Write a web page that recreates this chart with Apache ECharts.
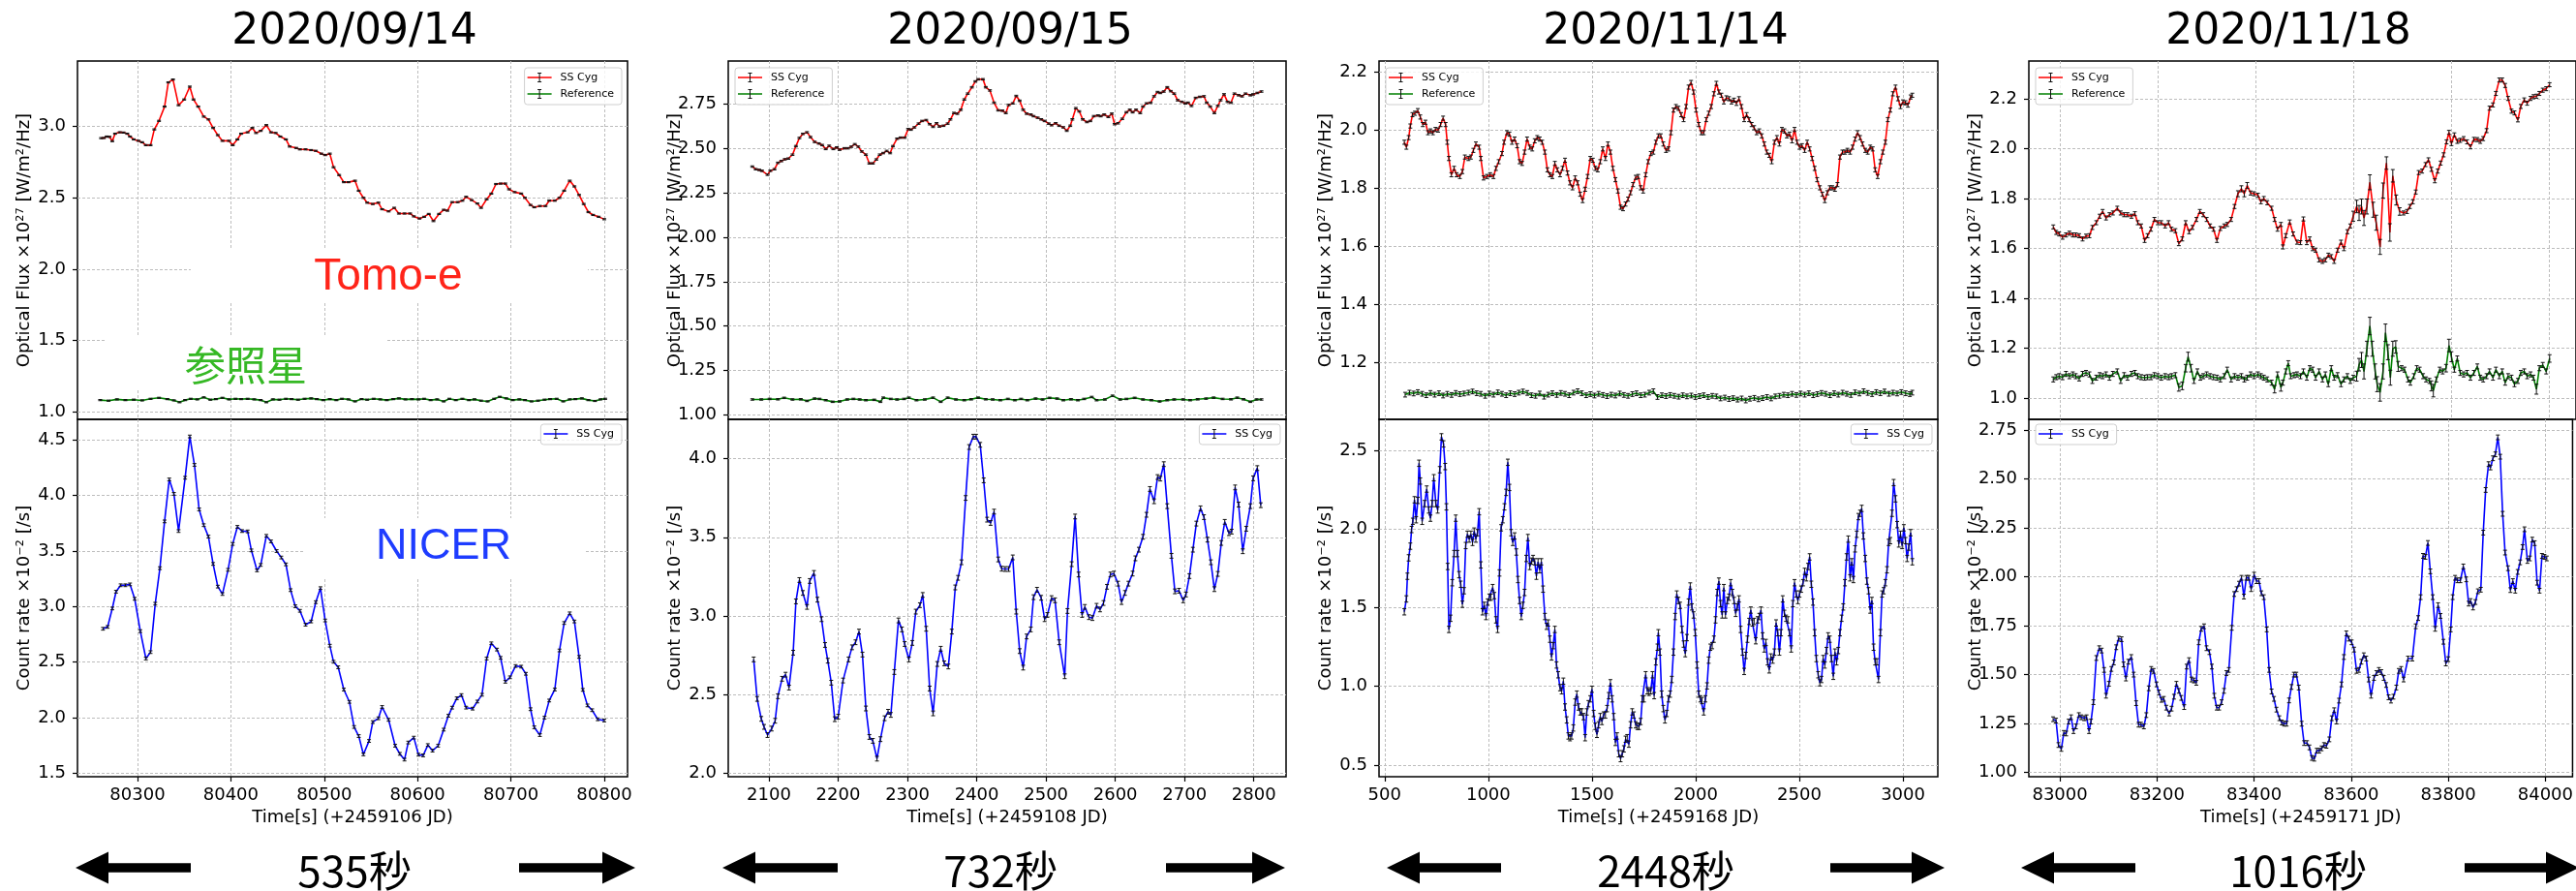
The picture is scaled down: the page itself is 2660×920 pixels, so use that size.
<!DOCTYPE html>
<html>
<head>
<meta charset="utf-8">
<title>SS Cyg Tomo-e / NICER light curves</title>
<script src="https://cdn.jsdelivr.net/npm/echarts@6/dist/echarts.min.js"></script>
<style>
  html, body { margin: 0; padding: 0; background: #fff; }
  #chart { width: 2660px; height: 920px; }
</style>
</head>
<body>
<div id="chart"></div>
<script>
// ---------------- data ----------------
const dates = ['2020/09/14', '2020/09/15', '2020/11/14', '2020/11/18'];
const spans = ['535秒', '732秒', '2448秒', '1016秒'];
const timeLabels = ['Time[s] (+2459106 JD)', 'Time[s] (+2459108 JD)', 'Time[s] (+2459168 JD)', 'Time[s] (+2459171 JD)'];

// axis limits
const xRange1 = [80235.7, 80824.9], xRange2 = [2041.3, 2846.5], xRange3 = [473, 3168], xRange4 = [82936, 84056];
const optRange1 = [0.946, 3.46], optRange2 = [0.974, 2.994], optRange3 = [1.004, 2.239], optRange4 = [0.915, 2.351];
const cntRange1 = [1.468, 4.686], cntRange2 = [1.977, 4.25], cntRange3 = [0.426, 2.697], cntRange4 = [0.977, 2.804];

// tick values
const xTicks1 = [80300, 80400, 80500, 80600, 80700, 80800];
const xTicks2 = [2100, 2200, 2300, 2400, 2500, 2600, 2700, 2800];
const xTicks3 = [500, 1000, 1500, 2000, 2500, 3000];
const xTicks4 = [83000, 83200, 83400, 83600, 83800, 84000];
const optTicks1 = [1.0, 1.5, 2.0, 2.5, 3.0];
const optTicks2 = [1.00, 1.25, 1.50, 1.75, 2.00, 2.25, 2.50, 2.75];
const optTicks3 = [1.2, 1.4, 1.6, 1.8, 2.0, 2.2];
const optTicks4 = [1.0, 1.2, 1.4, 1.6, 1.8, 2.0, 2.2];
const cntTicks1 = [1.5, 2.0, 2.5, 3.0, 3.5, 4.0, 4.5];
const cntTicks2 = [2.0, 2.5, 3.0, 3.5, 4.0];
const cntTicks3 = [0.5, 1.0, 1.5, 2.0, 2.5];
const cntTicks4 = [1.00, 1.25, 1.50, 1.75, 2.00, 2.25, 2.50, 2.75];

// typical 1-sigma errors per series (a third entry in a point overrides it)
const errTomo = [0.004, 0.004, 0.007, 0.008];
const errRef = [0.004, 0.004, 0.008, 0.01];
const errNicer = [0.012, 0.015, 0.02, 0.012];

// 2020/09/14  [time, value]
const tomo1 = [[80261,2.919],[80264,2.92],[80267,2.93],[80270,2.928],[80273,2.898],[80276,2.95],[80281,2.96],[80285,2.958],[80289,2.95],[80292,2.93],[80296,2.91],[80301,2.90],[80305,2.89],[80309,2.87],[80314,2.87],[80318,2.98],[80323,3.04],[80329,3.14],[80333,3.31],[80338,3.33],[80344,3.15],[80350,3.19],[80356,3.28],[80360,3.19],[80365,3.14],[80371,3.07],[80376,3.05],[80381,2.99],[80386,2.94],[80391,2.90],[80398,2.90],[80402,2.87],[80407,2.91],[80411,2.95],[80418,2.96],[80423,2.99],[80427,2.955],[80432,2.97],[80438,3.01],[80443,2.96],[80448,2.955],[80453,2.93],[80459,2.91],[80463,2.86],[80470,2.85],[80474,2.84],[80480,2.84],[80486,2.835],[80491,2.83],[80497,2.81],[80501,2.80],[80506,2.81],[80510,2.715],[80516,2.66],[80521,2.61],[80526,2.61],[80533,2.62],[80537,2.55],[80542,2.50],[80546,2.466],[80552,2.457],[80558,2.466],[80562,2.42],[80569,2.405],[80575,2.43],[80580,2.39],[80586,2.39],[80592,2.39],[80596,2.37],[80602,2.355],[80607,2.367],[80612,2.387],[80617,2.337],[80623,2.387],[80628,2.416],[80632,2.41],[80637,2.47],[80643,2.47],[80648,2.48],[80652,2.507],[80658,2.484],[80664,2.46],[80668,2.43],[80674,2.49],[80679,2.53],[80684,2.597],[80689,2.60],[80694,2.60],[80698,2.56],[80704,2.54],[80711,2.53],[80715,2.50],[80721,2.45],[80725,2.434],[80731,2.443],[80737,2.443],[80741,2.48],[80747,2.48],[80752,2.50],[80757,2.55],[80763,2.62],[80768,2.58],[80773,2.52],[80778,2.457],[80783,2.40],[80788,2.38],[80794,2.367],[80800,2.35]];
const ref1 = [[80260,1.081],[80269,1.077],[80278,1.086],[80287,1.081],[80296,1.084],[80305,1.079],[80314,1.090],[80323,1.097],[80332,1.088],[80339,1.079],[80345,1.066],[80351,1.081],[80357,1.090],[80364,1.086],[80371,1.100],[80378,1.084],[80384,1.088],[80391,1.097],[80398,1.086],[80405,1.090],[80411,1.088],[80418,1.090],[80425,1.086],[80432,1.081],[80438,1.066],[80445,1.086],[80452,1.084],[80459,1.090],[80465,1.088],[80472,1.084],[80479,1.090],[80486,1.093],[80492,1.088],[80499,1.081],[80506,1.088],[80513,1.081],[80519,1.090],[80526,1.086],[80533,1.072],[80540,1.088],[80546,1.084],[80553,1.090],[80560,1.086],[80567,1.081],[80574,1.088],[80580,1.093],[80587,1.086],[80594,1.088],[80601,1.086],[80607,1.090],[80614,1.081],[80621,1.086],[80628,1.072],[80634,1.090],[80641,1.081],[80648,1.090],[80655,1.081],[80661,1.086],[80668,1.077],[80675,1.072],[80682,1.090],[80688,1.104],[80695,1.093],[80702,1.081],[80709,1.086],[80715,1.081],[80722,1.072],[80729,1.077],[80736,1.084],[80742,1.088],[80749,1.090],[80756,1.072],[80763,1.086],[80769,1.088],[80776,1.093],[80783,1.081],[80790,1.075],[80796,1.086],[80801,1.090]];
const nicer1 = [[80263,2.80],[80268,2.817],[80273,2.983],[80277,3.134],[80282,3.192],[80287,3.192],[80292,3.20],[80297,3.07],[80303,2.779],[80309,2.532],[80314,2.59],[80319,3.026],[80324,3.346],[80329,3.767],[80334,4.145],[80339,4.015],[80344,3.68],[80351,4.16],[80356,4.532],[80361,4.276],[80366,3.875],[80371,3.733],[80376,3.63],[80381,3.384],[80386,3.18],[80391,3.113],[80397,3.331],[80402,3.564],[80407,3.718],[80412,3.68],[80418,3.677],[80422,3.506],[80428,3.326],[80432,3.375],[80438,3.637],[80443,3.587],[80449,3.50],[80454,3.442],[80459,3.38],[80464,3.148],[80469,3.003],[80474,2.962],[80480,2.837],[80486,2.866],[80491,3.04],[80496,3.166],[80501,2.875],[80506,2.648],[80510,2.503],[80515,2.453],[80521,2.253],[80527,2.142],[80532,1.916],[80537,1.834],[80542,1.669],[80548,1.79],[80552,1.96],[80558,1.994],[80562,2.096],[80569,1.98],[80576,1.747],[80581,1.674],[80586,1.622],[80590,1.776],[80596,1.82],[80601,1.666],[80606,1.66],[80611,1.753],[80616,1.703],[80622,1.747],[80628,1.892],[80633,2.017],[80637,2.09],[80642,2.174],[80647,2.203],[80652,2.09],[80659,2.081],[80664,2.145],[80669,2.206],[80674,2.532],[80679,2.669],[80685,2.613],[80689,2.538],[80694,2.323],[80699,2.363],[80705,2.465],[80711,2.459],[80716,2.395],[80721,2.076],[80725,1.913],[80731,1.843],[80736,2.0],[80741,2.154],[80747,2.253],[80752,2.605],[80757,2.852],[80763,2.939],[80768,2.866],[80773,2.547],[80777,2.25],[80782,2.11],[80787,2.067],[80793,1.985],[80800,1.974]];

// 2020/09/15
const tomo2 = [[2076,2.399],[2081,2.384],[2086,2.38],[2090,2.375],[2098,2.353],[2102,2.375],[2108,2.384],[2113,2.42],[2118,2.43],[2123,2.44],[2128,2.444],[2134,2.466],[2139,2.514],[2144,2.56],[2149,2.583],[2155,2.592],[2160,2.565],[2166,2.538],[2172,2.529],[2177,2.52],[2182,2.498],[2187,2.516],[2193,2.498],[2198,2.507],[2202,2.494],[2209,2.502],[2214,2.502],[2219,2.511],[2224,2.525],[2229,2.511],[2234,2.484],[2240,2.466],[2245,2.417],[2250,2.417],[2255,2.439],[2260,2.466],[2265,2.475],[2270,2.487],[2275,2.475],[2279,2.514],[2285,2.556],[2290,2.562],[2296,2.562],[2301,2.61],[2305,2.607],[2310,2.62],[2316,2.641],[2321,2.656],[2327,2.661],[2332,2.638],[2337,2.623],[2342,2.643],[2346,2.625],[2352,2.629],[2358,2.641],[2362,2.665],[2367,2.701],[2372,2.697],[2377,2.719],[2382,2.777],[2387,2.81],[2393,2.846],[2398,2.879],[2402,2.891],[2409,2.891],[2413,2.846],[2419,2.828],[2425,2.759],[2431,2.716],[2437,2.714],[2442,2.701],[2446,2.746],[2452,2.755],[2457,2.797],[2462,2.77],[2467,2.719],[2472,2.697],[2478,2.692],[2482,2.683],[2488,2.674],[2493,2.665],[2498,2.656],[2504,2.641],[2508,2.632],[2514,2.643],[2519,2.629],[2525,2.62],[2530,2.601],[2535,2.629],[2538,2.665],[2543,2.728],[2548,2.71],[2553,2.665],[2559,2.65],[2564,2.656],[2569,2.683],[2575,2.687],[2579,2.683],[2584,2.692],[2590,2.679],[2595,2.697],[2599,2.638],[2604,2.643],[2610,2.668],[2616,2.705],[2621,2.719],[2625,2.705],[2630,2.719],[2636,2.701],[2640,2.737],[2645,2.755],[2651,2.759],[2656,2.795],[2661,2.819],[2665,2.814],[2670,2.822],[2675,2.846],[2680,2.824],[2685,2.81],[2690,2.773],[2696,2.764],[2701,2.755],[2705,2.759],[2710,2.741],[2716,2.786],[2722,2.792],[2728,2.795],[2732,2.759],[2737,2.737],[2743,2.701],[2748,2.741],[2752,2.773],[2757,2.806],[2762,2.764],[2767,2.759],[2772,2.81],[2778,2.801],[2783,2.795],[2788,2.81],[2795,2.801],[2799,2.806],[2805,2.814],[2811,2.822]];
const ref2 = [[2076,1.086],[2089,1.086],[2101,1.089],[2113,1.087],[2122,1.095],[2134,1.086],[2146,1.087],[2155,1.078],[2166,1.091],[2173,1.089],[2182,1.082],[2192,1.073],[2202,1.075],[2213,1.086],[2222,1.089],[2231,1.086],[2240,1.082],[2252,1.084],[2261,1.073],[2265,1.096],[2276,1.089],[2285,1.086],[2295,1.089],[2302,1.096],[2313,1.082],[2325,1.086],[2337,1.096],[2348,1.073],[2358,1.096],[2370,1.086],[2382,1.082],[2392,1.087],[2402,1.096],[2413,1.087],[2423,1.086],[2434,1.082],[2445,1.089],[2455,1.082],[2464,1.089],[2473,1.082],[2485,1.091],[2495,1.086],[2505,1.095],[2516,1.091],[2525,1.082],[2536,1.087],[2546,1.082],[2555,1.089],[2566,1.100],[2573,1.082],[2585,1.086],[2596,1.107],[2607,1.086],[2616,1.089],[2628,1.095],[2640,1.086],[2652,1.082],[2664,1.075],[2675,1.082],[2685,1.086],[2698,1.086],[2708,1.082],[2719,1.087],[2731,1.091],[2742,1.096],[2755,1.089],[2767,1.087],[2776,1.096],[2785,1.087],[2795,1.073],[2804,1.086],[2811,1.086]];
const nicer2 = [[2078,2.723],[2083,2.472],[2089,2.345],[2093,2.294],[2098,2.242],[2104,2.283],[2109,2.333],[2113,2.489],[2119,2.6],[2124,2.626],[2129,2.544],[2135,2.766],[2139,3.092],[2144,3.228],[2149,3.146],[2155,3.057],[2159,3.222],[2165,3.273],[2170,3.103],[2176,2.979],[2181,2.815],[2185,2.715],[2190,2.575],[2195,2.343],[2200,2.359],[2207,2.589],[2215,2.723],[2220,2.8],[2225,2.832],[2230,2.9],[2235,2.754],[2240,2.411],[2245,2.23],[2250,2.205],[2256,2.092],[2261,2.216],[2267,2.349],[2272,2.39],[2276,2.37],[2281,2.643],[2287,2.971],[2292,2.914],[2296,2.821],[2302,2.723],[2307,2.828],[2312,3.027],[2318,3.068],[2322,3.133],[2327,2.918],[2332,2.538],[2337,2.38],[2343,2.694],[2348,2.791],[2353,2.698],[2359,2.678],[2364,2.9],[2369,3.181],[2373,3.242],[2378,3.341],[2384,3.75],[2389,4.074],[2395,4.14],[2399,4.14],[2405,4.088],[2410,3.862],[2415,3.612],[2420,3.591],[2425,3.663],[2431,3.359],[2436,3.3],[2441,3.298],[2446,3.298],[2452,3.372],[2457,3.027],[2462,2.776],[2467,2.671],[2472,2.869],[2478,2.914],[2482,3.119],[2487,3.166],[2493,3.115],[2498,2.979],[2502,3.006],[2508,3.113],[2513,3.099],[2519,2.832],[2527,2.616],[2531,3.031],[2537,3.329],[2542,3.632],[2547,3.263],[2552,3.006],[2556,3.057],[2562,2.992],[2567,2.986],[2573,3.064],[2578,3.041],[2583,3.082],[2588,3.185],[2593,3.263],[2598,3.269],[2604,3.205],[2609,3.088],[2614,3.146],[2619,3.205],[2625,3.269],[2629,3.366],[2634,3.421],[2640,3.503],[2645,3.643],[2650,3.807],[2656,3.729],[2661,3.883],[2665,3.873],[2670,3.965],[2675,3.698],[2681,3.382],[2686,3.156],[2692,3.16],[2698,3.099],[2702,3.136],[2707,3.253],[2712,3.421],[2717,3.587],[2723,3.684],[2728,3.628],[2733,3.485],[2738,3.341],[2743,3.17],[2748,3.267],[2753,3.464],[2758,3.598],[2764,3.526],[2768,3.536],[2773,3.817],[2778,3.708],[2784,3.411],[2789,3.554],[2795,3.698],[2799,3.875],[2805,3.94],[2810,3.704]];

// 2020/11/14
const tomo3 = [[595,1.959],[605,1.942],[616,1.975],[624,2.015],[634,2.054],[646,2.059],[660,2.068],[672,2.046],[684,2.02],[697,2.028],[709,1.992],[721,1.998],[733,1.992],[745,2.003],[758,2.001],[770,2.02],[782,2.042],[794,2.02],[802,1.959],[810,1.903],[822,1.847],[835,1.869],[847,1.847],[863,1.841],[875,1.858],[887,1.908],[904,1.903],[916,1.908],[928,1.931],[940,1.953],[956,1.942],[964,1.903],[977,1.836],[993,1.841],[1009,1.847],[1025,1.841],[1037,1.869],[1050,1.892],[1066,1.92],[1076,1.959],[1090,1.992],[1102,1.987],[1114,1.959],[1127,1.97],[1139,1.947],[1151,1.892],[1163,1.886],[1175,1.925],[1187,1.97],[1200,1.942],[1212,1.936],[1224,1.964],[1236,1.975],[1248,1.97],[1260,1.959],[1273,1.925],[1285,1.864],[1297,1.847],[1309,1.841],[1321,1.886],[1333,1.864],[1346,1.847],[1358,1.869],[1370,1.897],[1382,1.853],[1394,1.819],[1406,1.802],[1419,1.836],[1431,1.819],[1443,1.78],[1455,1.758],[1467,1.797],[1479,1.841],[1492,1.903],[1504,1.897],[1516,1.869],[1528,1.864],[1540,1.892],[1552,1.936],[1565,1.903],[1577,1.953],[1589,1.925],[1601,1.869],[1613,1.83],[1625,1.791],[1638,1.735],[1650,1.73],[1662,1.746],[1674,1.763],[1686,1.785],[1698,1.813],[1711,1.838],[1723,1.841],[1735,1.802],[1747,1.791],[1759,1.847],[1771,1.892],[1784,1.92],[1796,1.925],[1808,1.959],[1820,1.981],[1832,1.981],[1844,1.953],[1857,1.931],[1869,1.936],[1881,1.992],[1893,2.07],[1905,2.082],[1917,2.076],[1930,2.054],[1942,2.037],[1954,2.082],[1966,2.149],[1978,2.165],[1990,2.132],[2002,2.07],[2015,2.02],[2027,1.992],[2039,1.992],[2051,2.037],[2063,2.059],[2075,2.082],[2088,2.126],[2100,2.162],[2112,2.132],[2124,2.121],[2136,2.098],[2148,2.112],[2161,2.109],[2173,2.098],[2185,2.104],[2197,2.093],[2209,2.109],[2221,2.082],[2234,2.037],[2246,2.054],[2258,2.037],[2270,2.02],[2282,2.009],[2294,1.992],[2307,1.998],[2319,1.981],[2331,1.953],[2343,1.925],[2355,1.914],[2367,1.892],[2380,1.959],[2392,1.975],[2404,1.953],[2416,2.003],[2428,1.998],[2440,1.981],[2453,1.987],[2465,1.964],[2477,2.003],[2489,1.959],[2501,1.942],[2513,1.947],[2526,1.931],[2538,1.959],[2550,1.936],[2562,1.903],[2574,1.869],[2586,1.83],[2599,1.802],[2611,1.78],[2623,1.758],[2635,1.785],[2647,1.802],[2659,1.802],[2672,1.797],[2684,1.813],[2696,1.908],[2708,1.925],[2720,1.925],[2732,1.931],[2745,1.925],[2757,1.942],[2769,1.97],[2781,1.992],[2793,1.975],[2805,1.953],[2818,1.931],[2830,1.925],[2842,1.942],[2854,1.936],[2866,1.864],[2878,1.841],[2891,1.892],[2903,1.925],[2915,1.959],[2927,2.037],[2939,2.07],[2951,2.126],[2964,2.149],[2976,2.109],[2988,2.082],[3000,2.098],[3012,2.095],[3024,2.087],[3037,2.115],[3045,2.121]];
const ref3 = [[599,1.089],[620,1.096],[640,1.093],[660,1.098],[681,1.092],[701,1.087],[721,1.095],[741,1.089],[762,1.094],[782,1.086],[802,1.092],[823,1.088],[843,1.095],[863,1.091],[883,1.093],[904,1.096],[924,1.100],[944,1.094],[964,1.092],[985,1.085],[1005,1.093],[1025,1.089],[1046,1.097],[1066,1.092],[1086,1.087],[1106,1.094],[1127,1.091],[1147,1.096],[1167,1.100],[1188,1.095],[1208,1.087],[1228,1.085],[1248,1.093],[1269,1.082],[1289,1.089],[1309,1.094],[1330,1.088],[1350,1.095],[1370,1.092],[1390,1.087],[1411,1.096],[1431,1.101],[1451,1.094],[1472,1.087],[1492,1.091],[1512,1.086],[1532,1.092],[1553,1.088],[1573,1.084],[1593,1.089],[1613,1.086],[1634,1.093],[1654,1.088],[1674,1.085],[1695,1.091],[1715,1.094],[1735,1.087],[1755,1.089],[1776,1.096],[1796,1.101],[1816,1.081],[1837,1.087],[1857,1.084],[1877,1.088],[1897,1.085],[1918,1.082],[1938,1.087],[1958,1.083],[1979,1.086],[1999,1.081],[2019,1.084],[2039,1.087],[2060,1.081],[2080,1.085],[2100,1.083],[2120,1.076],[2141,1.079],[2161,1.074],[2181,1.077],[2202,1.072],[2222,1.076],[2242,1.069],[2262,1.075],[2283,1.078],[2303,1.073],[2323,1.077],[2344,1.081],[2364,1.076],[2384,1.083],[2404,1.085],[2425,1.089],[2445,1.087],[2465,1.092],[2486,1.088],[2506,1.093],[2526,1.089],[2546,1.094],[2567,1.087],[2587,1.091],[2607,1.095],[2627,1.092],[2648,1.087],[2668,1.094],[2688,1.089],[2709,1.096],[2729,1.092],[2749,1.088],[2769,1.097],[2790,1.093],[2810,1.101],[2830,1.095],[2851,1.091],[2871,1.098],[2891,1.094],[2911,1.100],[2932,1.092],[2952,1.096],[2972,1.093],[2992,1.098],[3013,1.094],[3033,1.091],[3045,1.096]];
const nicer3 = [[595,1.474],[605,1.556],[610,1.70],[616,1.817],[624,1.891],[630,1.997],[636,2.049],[644,2.186],[652,2.059],[660,2.182],[666,2.418],[672,2.305],[681,2.049],[693,2.162],[703,2.254],[713,2.121],[721,2.069],[729,2.162],[737,2.326],[747,2.162],[756,2.121],[766,2.377],[774,2.586],[784,2.541],[792,2.397],[798,2.141],[804,1.762],[810,1.362],[818,1.433],[826,1.659],[835,1.844],[843,2.069],[851,1.844],[859,1.71],[867,1.649],[875,1.522],[883,1.608],[891,1.895],[899,1.967],[908,1.936],[916,1.967],[924,1.915],[932,1.987],[940,1.936],[948,1.977],[956,2.110],[964,1.772],[972,1.474],[981,1.515],[989,1.444],[997,1.536],[1005,1.567],[1013,1.567],[1021,1.628],[1029,1.577],[1037,1.423],[1045,1.362],[1054,1.721],[1062,2.008],[1070,2.059],[1078,2.141],[1086,2.233],[1094,2.424],[1102,2.264],[1110,1.977],[1118,1.915],[1127,1.956],[1135,1.854],[1143,1.679],[1151,1.546],[1159,1.444],[1167,1.515],[1175,1.597],[1183,1.813],[1191,1.946],[1200,1.762],[1208,1.796],[1216,1.813],[1224,1.792],[1232,1.70],[1240,1.792],[1248,1.741],[1256,1.792],[1264,1.618],[1273,1.444],[1281,1.382],[1289,1.403],[1297,1.30],[1305,1.187],[1313,1.259],[1321,1.362],[1329,1.136],[1337,1.074],[1346,0.992],[1354,0.972],[1362,1.033],[1370,0.869],[1378,0.787],[1386,0.685],[1394,0.674],[1402,0.685],[1410,0.736],[1419,0.90],[1427,0.951],[1435,0.869],[1443,0.838],[1451,0.838],[1459,0.808],[1467,0.674],[1475,0.838],[1483,0.890],[1492,0.921],[1500,0.982],[1508,0.828],[1516,0.746],[1524,0.695],[1532,0.756],[1540,0.808],[1548,0.777],[1556,0.818],[1565,0.818],[1573,0.859],[1581,0.941],[1589,1.023],[1597,0.921],[1605,0.808],[1613,0.644],[1621,0.685],[1629,0.572],[1638,0.541],[1646,0.572],[1654,0.603],[1662,0.664],[1670,0.674],[1678,0.633],[1686,0.756],[1694,0.838],[1702,0.818],[1711,0.756],[1719,0.746],[1727,0.746],[1735,0.777],[1743,0.921],[1751,0.921],[1759,1.074],[1767,0.972],[1775,0.962],[1784,0.972],[1792,1.074],[1800,0.941],[1808,1.156],[1816,1.249],[1820,1.341],[1828,1.218],[1836,0.951],[1844,0.859],[1852,0.787],[1861,0.828],[1869,0.921],[1877,0.951],[1885,1.044],[1893,1.218],[1901,1.444],[1909,1.587],[1917,1.546],[1925,1.515],[1934,1.362],[1942,1.269],[1950,1.208],[1958,1.31],[1966,1.536],[1974,1.638],[1982,1.505],[1990,1.454],[1998,1.341],[2007,1.136],[2015,0.951],[2023,0.921],[2031,0.910],[2039,0.838],[2047,0.921],[2055,1.003],[2063,1.167],[2071,1.249],[2080,1.259],[2088,1.30],[2096,1.423],[2104,1.597],[2112,1.669],[2120,1.526],[2128,1.454],[2136,1.628],[2144,1.454],[2153,1.546],[2161,1.567],[2169,1.659],[2177,1.597],[2185,1.546],[2193,1.464],[2201,1.505],[2209,1.556],[2217,1.362],[2226,1.218],[2234,1.095],[2242,1.197],[2250,1.30],[2258,1.413],[2266,1.485],[2274,1.403],[2282,1.413],[2290,1.290],[2299,1.423],[2307,1.444],[2315,1.485],[2323,1.321],[2331,1.238],[2339,1.279],[2347,1.156],[2355,1.105],[2363,1.187],[2372,1.167],[2380,1.218],[2388,1.403],[2396,1.341],[2404,1.218],[2412,1.341],[2420,1.556],[2428,1.464],[2436,1.433],[2445,1.423],[2453,1.341],[2461,1.238],[2469,1.526],[2477,1.659],[2485,1.587],[2493,1.546],[2501,1.587],[2509,1.618],[2518,1.659],[2526,1.731],[2534,1.69],[2542,1.762],[2550,1.823],[2558,1.649],[2566,1.536],[2574,1.341],[2582,1.177],[2591,1.074],[2599,1.023],[2607,1.044],[2615,1.177],[2623,1.136],[2631,1.228],[2639,1.321],[2647,1.30],[2655,1.177],[2664,1.064],[2672,1.218],[2680,1.156],[2688,1.228],[2696,1.341],[2704,1.433],[2712,1.505],[2720,1.659],[2728,1.823],[2736,1.936],[2745,1.69],[2753,1.792],[2761,1.679],[2769,1.874],[2777,1.967],[2785,2.079],[2793,2.10],[2801,2.131],[2809,1.956],[2818,1.813],[2826,1.669],[2834,1.608],[2842,1.485],[2850,1.546],[2858,1.249],[2866,1.156],[2874,1.156],[2882,1.044],[2891,1.341],[2899,1.587],[2907,1.608],[2915,1.659],[2923,1.741],[2931,1.915],[2939,1.926],[2947,2.10],[2955,2.295],[2964,2.192],[2972,2.028],[2980,1.905],[2988,1.967],[2996,1.895],[3004,2.008],[3012,1.926],[3020,1.813],[3028,1.885],[3037,1.977],[3045,1.792]];

// 2020/11/18
const tomo4 = [[82986,1.686],[82992,1.664],[82998,1.658],[83005,1.645],[83012,1.654],[83019,1.661],[83026,1.654],[83032,1.654],[83039,1.651],[83046,1.638],[83053,1.649],[83060,1.651],[83066,1.684],[83074,1.703],[83081,1.729],[83087,1.748],[83094,1.722],[83101,1.735],[83108,1.742],[83117,1.761],[83124,1.742],[83131,1.735],[83138,1.735],[83146,1.729],[83153,1.739],[83159,1.703],[83166,1.69],[83173,1.632],[83179,1.651],[83186,1.677],[83193,1.716],[83200,1.703],[83207,1.703],[83215,1.69],[83222,1.703],[83228,1.677],[83236,1.671],[83243,1.619],[83250,1.638],[83257,1.703],[83264,1.667],[83271,1.684],[83279,1.716],[83286,1.748],[83293,1.735],[83300,1.716],[83307,1.69],[83314,1.677],[83321,1.632],[83328,1.68],[83336,1.69],[83342,1.696],[83350,1.716],[83357,1.768],[83364,1.819,0.012],[83371,1.839,0.012],[83377,1.819,0.012],[83383,1.852,0.012],[83390,1.822],[83397,1.819],[83405,1.813],[83411,1.787],[83417,1.8],[83424,1.783],[83433,1.761],[83439,1.716],[83445,1.677],[83452,1.696],[83456,1.606],[83462,1.651],[83470,1.706],[83477,1.658],[83485,1.625],[83492,1.623],[83498,1.718],[83505,1.623],[83511,1.638],[83517,1.599],[83523,1.593],[83530,1.554],[83537,1.548],[83543,1.554],[83549,1.573],[83555,1.567],[83561,1.548],[83568,1.593],[83575,1.625],[83581,1.599],[83588,1.667],[83594,1.69],[83600,1.729,0.02],[83607,1.768,0.025],[83612,1.742,0.03],[83617,1.768,0.03],[83622,1.722,0.03],[83628,1.768,0.03],[83634,1.865,0.03],[83641,1.755,0.03],[83647,1.703,0.03],[83655,1.606,0.03],[83661,1.832,0.03],[83668,1.942,0.025],[83675,1.664,0.035],[83681,1.891,0.025],[83688,1.794,0.02],[83695,1.748,0.015],[83703,1.742],[83710,1.748],[83716,1.768],[83722,1.787],[83728,1.826],[83734,1.904],[83741,1.91],[83748,1.936],[83754,1.955],[83760,1.917],[83767,1.871],[83773,1.91],[83779,1.942],[83785,1.975],[83791,2.027],[83796,2.065],[83801,2.02],[83807,2.055],[83813,2.029],[83819,2.033],[83826,2.04],[83833,2.027],[83840,2.007],[83847,2.037],[83854,2.036],[83860,2.029],[83866,2.04],[83873,2.072],[83879,2.162],[83886,2.175],[83892,2.221],[83899,2.275],[83905,2.275],[83911,2.253],[83917,2.201],[83924,2.15],[83930,2.143],[83937,2.115],[83943,2.169],[83950,2.195],[83956,2.182],[83963,2.201],[83969,2.208],[83975,2.21],[83981,2.221],[83988,2.234],[83995,2.24],[84002,2.256]];
const ref4 = [[82986,1.075],[82992,1.084],[82998,1.088],[83005,1.084],[83012,1.097],[83019,1.088],[83026,1.095],[83032,1.088],[83039,1.079],[83046,1.097],[83053,1.101],[83060,1.095],[83066,1.069],[83074,1.082],[83081,1.092],[83087,1.088],[83094,1.095],[83101,1.082],[83108,1.097],[83117,1.107],[83124,1.069],[83131,1.092],[83138,1.082],[83146,1.097],[83153,1.101],[83159,1.088],[83166,1.084],[83173,1.082],[83179,1.084],[83186,1.084],[83193,1.092],[83200,1.088],[83207,1.082],[83215,1.088],[83222,1.084],[83228,1.088],[83236,1.092],[83243,1.043,0.015],[83250,1.049,0.015],[83257,1.12,0.015],[83262,1.166,0.018],[83268,1.12,0.015],[83274,1.069],[83281,1.107],[83287,1.082],[83293,1.088],[83300,1.095],[83307,1.088],[83314,1.084],[83321,1.082],[83328,1.075],[83336,1.088],[83342,1.114],[83350,1.075],[83357,1.088],[83364,1.082],[83371,1.088],[83377,1.075],[83383,1.082],[83390,1.095],[83397,1.088],[83405,1.095],[83411,1.088],[83417,1.082],[83424,1.075],[83433,1.062],[83439,1.036,0.015],[83445,1.095],[83452,1.043,0.015],[83456,1.062],[83462,1.107],[83467,1.14],[83472,1.088],[83479,1.092],[83485,1.095],[83492,1.088],[83498,1.107],[83505,1.082],[83511,1.12],[83517,1.114],[83523,1.082],[83530,1.107],[83537,1.075],[83543,1.095],[83549,1.056],[83555,1.12],[83561,1.082],[83568,1.092],[83575,1.056],[83581,1.075],[83588,1.088],[83594,1.069],[83600,1.082],[83607,1.088,0.02],[83612,1.134,0.025],[83617,1.153,0.03],[83622,1.107,0.03],[83628,1.198,0.03],[83634,1.289,0.035],[83639,1.198,0.03],[83645,1.107,0.03],[83649,1.056,0.03],[83655,1.023,0.035],[83661,1.107,0.03],[83666,1.262,0.035],[83671,1.184,0.03],[83676,1.082,0.03],[83681,1.198,0.03],[83687,1.205,0.025],[83692,1.127,0.02],[83699,1.12],[83705,1.114],[83712,1.075],[83717,1.062],[83724,1.088],[83730,1.12],[83736,1.114],[83743,1.088],[83749,1.075],[83756,1.069],[83760,1.049,0.02],[83764,1.03,0.025],[83770,1.075],[83777,1.114],[83783,1.107],[83790,1.12,0.015],[83796,1.211,0.025],[83801,1.166,0.02],[83807,1.114],[83813,1.159],[83819,1.101],[83826,1.095],[83833,1.101],[83840,1.082],[83847,1.101],[83854,1.127],[83860,1.082],[83866,1.075],[83873,1.088],[83879,1.107],[83886,1.082],[83892,1.114],[83899,1.088],[83905,1.107],[83911,1.062],[83917,1.088],[83924,1.082],[83930,1.056],[83937,1.069],[83943,1.101],[83950,1.107],[83956,1.088],[83963,1.095],[83969,1.082],[83975,1.036,0.02],[83981,1.12],[83988,1.133],[83995,1.107],[84002,1.159,0.015]];
const nicer4 = [[82986,1.271],[82992,1.264],[82997,1.139],[83003,1.119],[83008,1.201],[83013,1.198],[83018,1.259],[83023,1.281],[83028,1.21],[83033,1.234],[83039,1.292],[83044,1.281],[83050,1.276],[83055,1.281],[83060,1.21],[83064,1.259],[83069,1.358],[83075,1.584],[83081,1.634],[83086,1.622],[83091,1.523],[83095,1.391],[83101,1.452],[83106,1.528],[83111,1.561],[83116,1.639],[83121,1.683],[83127,1.68],[83131,1.551],[83136,1.479],[83141,1.565],[83147,1.589],[83152,1.499],[83157,1.353],[83162,1.243],[83167,1.243],[83173,1.234],[83178,1.292],[83183,1.429],[83188,1.528],[83193,1.518],[83199,1.449],[83204,1.408],[83209,1.37],[83214,1.375],[83219,1.33],[83225,1.30],[83230,1.325],[83235,1.386],[83240,1.452],[83245,1.416],[83250,1.38],[83256,1.333],[83261,1.54],[83266,1.573],[83271,1.474],[83276,1.469],[83281,1.457],[83286,1.664],[83291,1.733],[83297,1.746],[83302,1.634],[83308,1.614],[83313,1.54],[83318,1.391],[83323,1.33],[83328,1.33],[83333,1.358],[83338,1.416],[83343,1.507],[83348,1.523],[83354,1.738],[83359,1.911],[83364,1.936],[83369,1.964],[83374,1.994],[83379,1.898],[83384,1.994],[83389,1.994],[83394,1.936],[83400,2.01],[83405,1.977],[83410,1.977],[83415,1.915],[83420,1.895],[83426,1.73],[83431,1.523],[83436,1.413],[83441,1.375],[83446,1.32],[83452,1.276],[83457,1.254],[83462,1.248],[83467,1.248],[83472,1.367],[83477,1.436],[83482,1.499],[83487,1.499],[83492,1.433],[83498,1.248],[83503,1.149],[83509,1.149],[83514,1.127],[83519,1.073],[83524,1.069],[83529,1.11],[83534,1.11],[83539,1.122],[83544,1.139],[83549,1.135],[83555,1.168],[83560,1.276],[83565,1.317],[83570,1.259],[83575,1.366],[83580,1.449],[83585,1.589],[83590,1.71],[83595,1.683],[83601,1.664],[83606,1.627],[83611,1.518],[83616,1.523],[83621,1.565],[83626,1.598],[83631,1.581],[83636,1.474],[83641,1.391],[83647,1.482],[83652,1.507],[83657,1.523],[83662,1.512],[83667,1.482],[83672,1.446],[83677,1.383],[83682,1.366],[83687,1.386],[83693,1.433],[83698,1.518],[83703,1.528],[83708,1.474],[83717,1.581],[83726,1.581],[83733,1.746],[83738,1.788],[83743,1.895],[83748,2.106],[83753,2.101],[83758,2.172],[83763,2.027],[83768,1.895],[83773,1.733],[83779,1.854],[83784,1.799],[83790,1.667],[83795,1.556],[83800,1.578],[83805,1.730],[83809,1.895],[83814,1.994],[83819,1.981],[83825,1.981],[83831,2.052],[83837,1.986],[83842,1.862],[83846,1.875],[83851,1.842],[83856,1.870],[83861,1.925],[83867,1.933],[83872,2.225],[83877,2.443],[83883,2.575],[83887,2.558],[83892,2.605],[83897,2.625],[83902,2.712],[83907,2.613],[83912,2.321],[83917,2.123],[83923,2.043],[83928,1.931],[83933,1.977],[83938,1.928],[83943,2.024],[83948,2.073],[83953,2.151],[83957,2.242],[83963,2.08],[83968,2.093],[83973,2.189],[83978,2.171],[83983,1.969],[83988,1.928],[83993,2.106],[83998,2.101],[84003,2.093]];

// ---------------- layout & style ----------------
const FONT = "'DejaVu Sans', sans-serif";
const C_TOMO = '#ff0000', C_REF = '#008000', C_NICER = '#0000ff';
const GRID_LINE = '#bdbdbd';
const TOP = 63, MID = 433, BOTTOM = 802, W = 2660;
const frames = [
  { left: 80, width: 568 },
  { left: 752, width: 576 },
  { left: 1424, width: 577 },
  { left: 2095, width: 570 }
];
const panels = [
  { tomo: tomo1, ref: ref1, nicer: nicer1, x: xRange1, xt: xTicks1, opt: optRange1, ot: optTicks1, od: 1, cnt: cntRange1, ct: cntTicks1, cd: 1, legTop: 'right', legBot: 'right' },
  { tomo: tomo2, ref: ref2, nicer: nicer2, x: xRange2, xt: xTicks2, opt: optRange2, ot: optTicks2, od: 2, cnt: cntRange2, ct: cntTicks2, cd: 1, legTop: 'left', legBot: 'right' },
  { tomo: tomo3, ref: ref3, nicer: nicer3, x: xRange3, xt: xTicks3, opt: optRange3, ot: optTicks3, od: 1, cnt: cntRange3, ct: cntTicks3, cd: 1, legTop: 'left', legBot: 'right' },
  { tomo: tomo4, ref: ref4, nicer: nicer4, x: xRange4, xt: xTicks4, opt: optRange4, ot: optTicks4, od: 1, cnt: cntRange4, ct: cntTicks4, cd: 2, legTop: 'left', legBot: 'left' }
];
const titleCenters = [366, 1043, 1720, 2363];
const spanCenters = [366, 1033, 1720, 2373];
const arrowSpans = [[78, 197, 536, 656], [746, 865, 1204, 1327], [1432, 1550, 1890, 2008], [2087, 2205, 2545, 2663]];

// legend icons: a coloured line, and a black error bar drawn over it
const ICON_LINE = 'path://M0,4.25H25V5.75H0Z M28.99,0H29V0.01H28.99Z M28.99,9.99H29V10H28.99Z';
const ICON_BAR = 'path://M12,0.6H13V9.4H12Z M10.5,0H14.5V1H10.5Z M10.5,9H14.5V10H10.5Z M0,4.99H0.01V5H0Z M28.99,4.99H29V5H28.99Z';

function stepOf(ticks) { return +(ticks[1] - ticks[0]).toFixed(6); }

function makeAxis(gridIndex, range, ticks, o) {
  const step = stepOf(ticks);
  return {
    type: 'value', gridIndex,
    min: range[0], max: range[1], minInterval: step, maxInterval: step,
    name: o.name || '', nameLocation: 'middle', nameGap: o.nameGap || 0, nameMoveOverlap: false,
    nameTextStyle: { fontFamily: FONT, fontSize: 18, color: '#000' },
    axisLine: { show: false },
    axisTick: { show: o.ticks, length: 5, lineStyle: { color: '#000', width: 1.2 }, customValues: ticks },
    axisLabel: {
      show: o.labels, customValues: ticks, margin: o.margin, color: '#000',
      fontFamily: FONT, fontSize: 18,
      formatter: v => o.digits == null ? String(v) : Number(v).toFixed(o.digits)
    },
    splitLine: { show: true, lineStyle: { color: GRID_LINE, type: [3, 2], width: 1 } }
  };
}

function renderErrorBar(params, api) {
  const x = api.value(0), y = api.value(1), e = api.value(2);
  const hi = api.coord([x, y + e]);
  const lo = api.coord([x, y - e]);
  const cap = 2;
  const st = { stroke: '#111', lineWidth: 1 };
  return {
    type: 'group',
    children: [
      { type: 'line', shape: { x1: hi[0], y1: hi[1], x2: lo[0], y2: lo[1] }, style: st },
      { type: 'line', shape: { x1: hi[0] - cap, y1: hi[1], x2: hi[0] + cap, y2: hi[1] }, style: st },
      { type: 'line', shape: { x1: lo[0] - cap, y1: lo[1], x2: lo[0] + cap, y2: lo[1] }, style: st }
    ]
  };
}

function lineSeries(name, data, color, idx) {
  return {
    type: 'line', name, xAxisIndex: idx, yAxisIndex: idx,
    data: data.map(d => [d[0], d[1]]),
    showSymbol: false, symbol: 'none', clip: true, silent: true, z: 2,
    lineStyle: { color, width: 1.6 }, itemStyle: { color }
  };
}

function errorSeries(name, data, err, idx) {
  return {
    type: 'custom', name: name + ' σ', xAxisIndex: idx, yAxisIndex: idx,
    data: data.map(d => [d[0], d[1], d.length > 2 ? d[2] : err]),
    encode: { x: 0, y: 1 }, renderItem: renderErrorBar, silent: true, z: 3
  };
}

function legendPair(items, side, frame, top) {
  const pos = side === 'right'
    ? { right: W - (frame.left + frame.width - 6) }
    : { left: frame.left + 7 };
  const base = Object.assign({
    top, orient: 'vertical', selectedMode: false,
    itemWidth: 29, itemHeight: 10, itemGap: 5,
    padding: [4, 8, 5, 3],
    itemStyle: { borderWidth: 0 }
  }, pos);
  const a = Object.assign({}, base, {
    icon: ICON_LINE, z: 5,
    data: items.map(it => ({ name: it.name, itemStyle: { color: it.color, borderWidth: 0 } })),
    textStyle: { fontFamily: FONT, fontSize: 11, lineHeight: 12, color: '#000' },
    backgroundColor: 'rgba(255,255,255,0.8)', borderColor: '#cfcfcf', borderWidth: 1, borderRadius: 3
  });
  const b = Object.assign({}, base, {
    icon: ICON_BAR, z: 6,
    data: items.map(it => ({ name: it.name, itemStyle: { color: '#111', borderWidth: 0 } })),
    textStyle: { fontFamily: FONT, fontSize: 11, lineHeight: 12, color: 'rgba(0,0,0,0)' },
    backgroundColor: 'transparent', borderWidth: 0
  });
  return [a, b];
}

const grid = [], xAxis = [], yAxis = [], series = [], legend = [];

panels.forEach((p, i) => {
  const f = frames[i];
  const gTop = 2 * i, gBot = 2 * i + 1;
  const border = { show: true, borderColor: '#000', borderWidth: 1.5, backgroundColor: 'transparent' };
  grid.push(Object.assign({ left: f.left, top: TOP, width: f.width, height: MID - TOP }, border));
  grid.push(Object.assign({ left: f.left, top: MID, width: f.width, height: BOTTOM - MID }, border));

  xAxis.push(makeAxis(gTop, p.x, p.xt, { ticks: false, labels: false, margin: 10 }));
  xAxis.push(makeAxis(gBot, p.x, p.xt, { ticks: true, labels: true, margin: 10, name: timeLabels[i], nameGap: 33 }));
  yAxis.push(makeAxis(gTop, p.opt, p.ot, { ticks: true, labels: true, margin: 12, digits: p.od,
    name: 'Optical Flux ×10²⁷ [W/m²/Hz]', nameGap: 46 }));
  yAxis.push(makeAxis(gBot, p.cnt, p.ct, { ticks: true, labels: true, margin: 12, digits: p.cd,
    name: 'Count rate ×10⁻² [/s]', nameGap: 46 }));

  series.push(lineSeries('SS Cyg', p.tomo, C_TOMO, gTop));
  series.push(errorSeries('SS Cyg', p.tomo, errTomo[i], gTop));
  series.push(lineSeries('Reference', p.ref, C_REF, gTop));
  series.push(errorSeries('Reference', p.ref, errRef[i], gTop));
  series.push(lineSeries('SS Cyg', p.nicer, C_NICER, gBot));
  series.push(errorSeries('SS Cyg', p.nicer, errNicer[i], gBot));

  legend.push(...legendPair([{ name: 'SS Cyg', color: C_TOMO }, { name: 'Reference', color: C_REF }], p.legTop, f, 70));
  legend.push(...legendPair([{ name: 'SS Cyg', color: C_NICER }], p.legBot, f, 438));
});

// titles, annotations, duration arrows
const graphic = [];
dates.forEach((d, i) => {
  graphic.push({ type: 'text', x: titleCenters[i], y: 34, z: 10,
    style: { text: d, fill: '#000', font: "44px 'DejaVu Sans', sans-serif", align: 'center', verticalAlign: 'middle' } });
});

function annotation(box, label, cx, cy, color, font) {
  graphic.push({ type: 'rect', z: 1, shape: { x: box[0], y: box[1], width: box[2], height: box[3] }, style: { fill: '#fff' } });
  graphic.push({ type: 'text', x: cx, y: cy, z: 10,
    style: { text: label, fill: color, font, align: 'center', verticalAlign: 'middle' } });
}
annotation([197, 257, 410, 56], 'Tomo-e', 401, 286, '#ff2419', "46px 'Liberation Sans', Arial, sans-serif");
annotation([108, 348, 291, 55], '参照星', 254, 377, '#35b824', "42px 'Noto Sans CJK JP', sans-serif");
annotation([314, 535, 289, 62], 'NICER', 458, 565, '#1e3cff', "45px 'Liberation Sans', Arial, sans-serif");

const AY = 896, HEAD = 34, HALF_H = 16.5, HALF_S = 4.7;
function leftArrow(x1, x2) {
  return [[x1, AY], [x1 + HEAD, AY - HALF_H], [x1 + HEAD, AY - HALF_S], [x2, AY - HALF_S],
          [x2, AY + HALF_S], [x1 + HEAD, AY + HALF_S], [x1 + HEAD, AY + HALF_H]];
}
function rightArrow(x1, x2) {
  return [[x2, AY], [x2 - HEAD, AY - HALF_H], [x2 - HEAD, AY - HALF_S], [x1, AY - HALF_S],
          [x1, AY + HALF_S], [x2 - HEAD, AY + HALF_S], [x2 - HEAD, AY + HALF_H]];
}
spans.forEach((s, i) => {
  const a = arrowSpans[i];
  graphic.push({ type: 'polygon', z: 10, shape: { points: leftArrow(a[0], a[1]) }, style: { fill: '#000' } });
  graphic.push({ type: 'polygon', z: 10, shape: { points: rightArrow(a[2], a[3]) }, style: { fill: '#000' } });
  graphic.push({ type: 'text', x: spanCenters[i], y: 899, z: 10,
    style: { text: s, fill: '#000', font: "44px 'Noto Sans CJK JP', sans-serif", align: 'center', verticalAlign: 'middle' } });
});

const chart = echarts.init(document.getElementById('chart'), null, { renderer: 'canvas', width: 2660, height: 920 });
chart.setOption({
  animation: false,
  backgroundColor: '#fff',
  textStyle: { fontFamily: FONT },
  grid, xAxis, yAxis, series, legend, graphic
});
</script>
</body>
</html>
